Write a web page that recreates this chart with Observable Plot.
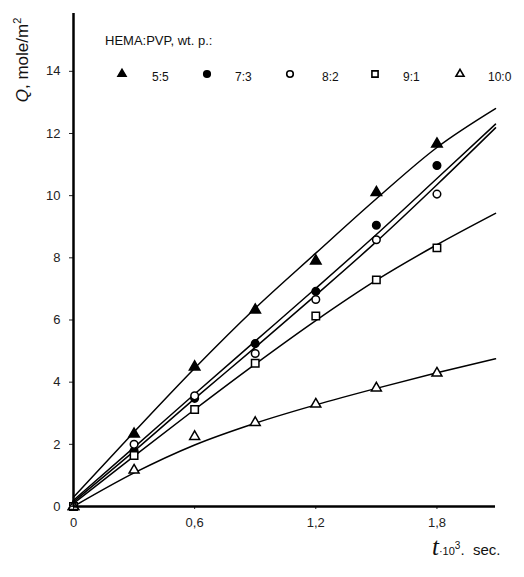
<!DOCTYPE html>
<html>
<head>
<meta charset="utf-8">
<script src="https://cdn.jsdelivr.net/npm/d3@7"></script>
<script src="https://cdn.jsdelivr.net/npm/@observablehq/plot@0.6"></script>
<style>
  html, body { margin: 0; padding: 0; background: #fff; }
  #wrap { position: relative; width: 524px; height: 577px; font-family: "Liberation Sans", Arial, sans-serif; color: #111; }
  #wrap svg { position: absolute; left: 0; top: 0; }
  .ov { position: absolute; white-space: nowrap; }
</style>
</head>
<body>
<div id="wrap"></div>
<script>
// ---- data ----
const series = ["5:5", "7:3", "8:2", "9:1", "10:0"];
const pointTimes = [0, 0.3, 0.6, 0.9, 1.2, 1.5, 1.8];
const q55  = [0, 2.33, 4.49, 6.32, 7.90, 10.10, 11.66];
const q73  = [0, 1.79, 3.48, 5.24, 6.92, 9.05, 10.97];
const q82  = [0, 2.00, 3.56, 4.92, 6.66, 8.58, 10.05];
const q91  = [0, 1.64, 3.12, 4.61, 6.13, 7.29, 8.32];
const q100 = [0, 1.17, 2.25, 2.70, 3.29, 3.81, 4.29];

// fitted curves
const curveTimes = [0, 0.3, 0.6, 0.9, 1.2, 1.5, 1.8, 2.09];
const c55  = [0.30, 2.40, 4.45, 6.38, 8.15, 9.90, 11.55, 12.80];
const c73  = [0.20, 1.90, 3.62, 5.32, 7.02, 8.75, 10.55, 12.30];
const c82  = [0.15, 1.78, 3.47, 5.12, 6.80, 8.52, 10.35, 12.18];
const c91  = [0.10, 1.62, 3.12, 4.58, 5.98, 7.28, 8.42, 9.43];
const c100 = [0.00, 1.08, 1.98, 2.68, 3.27, 3.80, 4.30, 4.75];

const xTicks = [0, 0.6, 1.2, 1.8];
const xTickLabels = ["0", "0,6", "1,2", "1,8"];
const yTicks = [0, 2, 4, 6, 8, 10, 12, 14];

// ---- build tables ----
const pointSets = [q55, q73, q82, q91, q100];
const curveSets = [c55, c73, c82, c91, c100];
const points = [];
series.forEach((s, i) => pointTimes.forEach((t, j) => points.push({s, t, q: pointSets[i][j]})));
const curves = [];
series.forEach((s, i) => curveTimes.forEach((t, j) => curves.push({s, t, q: curveSets[i][j]})));

const symbolOf = {"5:5": "triangle", "7:3": "circle", "8:2": "circle", "9:1": "square", "10:0": "triangle"};
const filled = {"5:5": true, "7:3": true, "8:2": false, "9:1": false, "10:0": false};
const radius = {"5:5": 3.9, "7:3": 3.8, "8:2": 3.8, "9:1": 4.2, "10:0": 3.7};

const dotMarks = series.map(s => Plot.dot(points.filter(d => d.s === s), {
  x: "t", y: "q",
  symbol: () => symbolOf[s],
  r: radius[s],
  fill: filled[s] ? "#000" : "#fff",
  stroke: "#000",
  strokeWidth: 1.5
}));

const chart = Plot.plot({
  width: 524,
  height: 577,
  marginLeft: 73,
  marginRight: 29,
  marginTop: 13,
  marginBottom: 71,
  style: {fontFamily: "'Liberation Sans', Arial, sans-serif", fontSize: "13px", color: "#222", background: "#fff"},
  x: {domain: [0, 2.09]},
  y: {domain: [0, 15.86]},
  symbol: {type: "identity"},
  marks: [
    Plot.line(curves, {x: "t", y: "q", z: "s", curve: "monotone-x", stroke: "#000", strokeWidth: 1.5}),
    ...dotMarks,
    Plot.axisY({ticks: yTicks, tickSize: 4, tickPadding: 9, label: null, tickFormat: d => String(d), fontSize: 13}),
    Plot.axisX({ticks: xTicks, tickSize: 3, tickPadding: 8, label: null,
      tickFormat: d => xTickLabels[xTicks.indexOf(d)], fontSize: 13}),
    Plot.ruleX([0], {stroke: "#000", strokeWidth: 2.5}),
    Plot.ruleY([0], {stroke: "#000", strokeWidth: 2.5})
  ]
});
const wrap = document.getElementById("wrap");
wrap.appendChild(chart);

// ---- overlay texts: y label, x label, legend ----
function ov(html, css) {
  const d = document.createElement("div");
  d.className = "ov";
  d.innerHTML = html;
  Object.assign(d.style, css);
  wrap.appendChild(d);
  return d;
}
ov('<i>Q</i>, mole/m<sup style="font-size:11px">2</sup>', {
  left: "22px", top: "60px", fontSize: "17px",
  transform: "translate(-50%,-50%) rotate(-90deg)"
});
ov('<i style="font-family:\'Liberation Serif\',serif;font-size:25px">t</i><span style="font-size:11px">·10</span><sup style="font-size:10px">3</sup><span style="font-size:15px">.&nbsp; sec.</span>', {
  left: "432px", top: "533px", lineHeight: "25px"
});
ov('HEMA:PVP, wt. p.:', {left: "105px", top: "33px", fontSize: "13px"});

// legend row
const legendX = [122, 207, 290, 375, 460];
const legendLabelX = [152, 235, 322, 403, 488];
series.forEach((s, i) => {
  const sym = d3.symbol().type(symbolOf[s] === "triangle" ? d3.symbolTriangle : symbolOf[s] === "square" ? d3.symbolSquare : d3.symbolCircle)
    .size(symbolOf[s] === "circle" ? 34 : symbolOf[s] === "square" ? 38 : 28)();
  ov(`<svg width="16" height="16" style="display:block"><path transform="translate(8,8)" d="${sym}" fill="${filled[s] ? '#000' : '#fff'}" stroke="#000" stroke-width="1.6"/></svg>`,
    {left: (legendX[i] - 8) + "px", top: (74 - 8) + "px"});
  ov(s, {left: legendLabelX[i] + "px", top: "70px", fontSize: "12px"});
});
</script>
</body>
</html>
